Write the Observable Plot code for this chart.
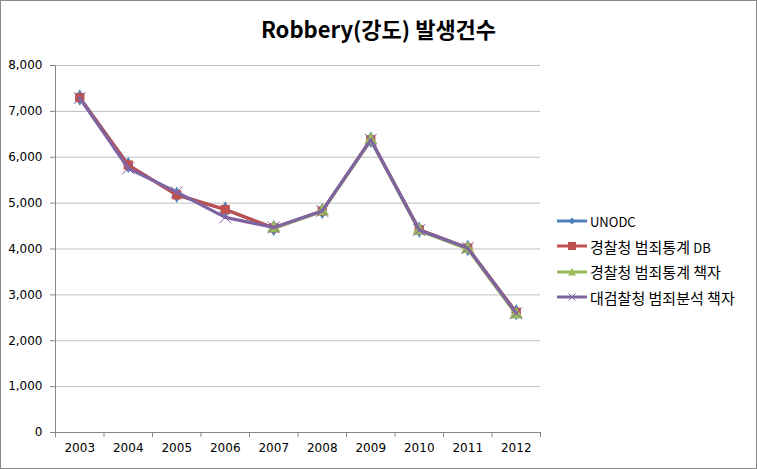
<!DOCTYPE html>
<html><head><meta charset="utf-8">
<script src="https://cdn.jsdelivr.net/npm/d3@7"></script>
<script src="https://cdn.jsdelivr.net/npm/@observablehq/plot@0.6"></script>
<style>
body{margin:0;background:#fff;font-family:"Noto Sans CJK KR","Noto Sans",sans-serif;}
#wrap{position:relative;width:757px;height:469px;overflow:hidden;}
#frame{position:absolute;left:0;top:0;width:757px;height:469px;box-sizing:border-box;border:1px solid #8a8a8a;pointer-events:none;}
#title{position:absolute;left:0;top:12px;width:757px;text-align:center;font-weight:bold;font-size:22px;color:#000;}
#plot{position:absolute;left:0;top:0;}
#legend{position:absolute;left:557px;top:208px;font-size:15px;color:#000;}
.row{height:25.5px;display:flex;align-items:center;white-space:nowrap;}
.row svg{margin-right:3px;}
.lat{font-size:13px;}
</style></head>
<body>
<div id="wrap">
  <div id="plot"></div>
  <div id="title">Robbery(강도) 발생건수</div>
  <div id="legend"></div>
  <div id="frame"></div>
</div>
<script>
const years = [2003,2004,2005,2006,2007,2008,2009,2010,2011,2012];
const seriesNames = ["UNODC","경찰청 범죄통계 DB","경찰청 범죄통계 책자","대검찰청 범죄분석 책자"];
const unodc   = [7300,5830,5180,4860,4460,4830,6380,4420,4020,2620];
const policeDB = [7300,5830,5180,4860,4460,4830,6380,4420,4020,2620];
const policeBook = [null,null,null,null,4450,4820,6370,4400,4000,2570];
const prosecutorBook = [7290,5760,5240,4690,4470,4830,6380,4410,4020,2600];
const yTicks = [0,1000,2000,3000,4000,5000,6000,7000,8000];

const colors = ["#4F81BD","#C0504D","#9BBB59","#8064A2"];
const symbols = ["diamond","square","triangle","times"];
const allValues = [unodc, policeDB, policeBook, prosecutorBook];

const data = [];
allValues.forEach((vals, si) => years.forEach((yr, i) => {
  if (vals[i] != null) data.push({series: seriesNames[si], year: yr, value: vals[i]});
}));

const boundaries = years.map(y => y - 0.5).concat([years[years.length-1] + 0.5]);
const axisFont = '"DejaVu Sans","Noto Sans",sans-serif';

const marks = [
  Plot.gridY(yTicks, {stroke: "#bfbfbf", strokeOpacity: 1}),
  Plot.ruleX([boundaries[0]], {stroke: "#868686"}),
  Plot.ruleY([0], {stroke: "#868686"}),
  Plot.axisY({ticks: yTicks, tickSize: 5, tickPadding: 8, tickFormat: d3.format(","), label: null, stroke: "#868686", fontSize: 12, fontFamily: axisFont}),
  Plot.axisX({ticks: boundaries, tickSize: 5, tickFormat: () => "", label: null, stroke: "#868686"}),
  Plot.axisX({ticks: years, tickSize: 0, tickPadding: 11, tickFormat: d => String(d), label: null, fontSize: 12, fontFamily: axisFont})
];
seriesNames.forEach((name, si) => {
  const d = data.filter(r => r.series === name);
  marks.push(Plot.line(d, {x: "year", y: "value", stroke: colors[si], strokeWidth: 3.2}));
  if (symbols[si] === "times") {
    marks.push(Plot.dot(d, {x: "year", y: "value", symbol: "times", stroke: colors[si], strokeWidth: 1, r: 5.5}));
  } else {
    marks.push(Plot.dot(d, {x: "year", y: "value", symbol: symbols[si], fill: colors[si], stroke: "none", r: symbols[si] === "square" ? 5.2 : 5}));
  }
});

const chart = Plot.plot({
  width: 757, height: 469,
  marginLeft: 55, marginRight: 217, marginTop: 65, marginBottom: 37,
  style: {fontFamily: axisFont, fontSize: "12px", color: "#000", background: "transparent"},
  x: {type: "linear", domain: [boundaries[0], boundaries[boundaries.length-1]]},
  y: {domain: [0, 8000]},
  marks
});
document.getElementById("plot").appendChild(chart);

const legend = document.getElementById("legend");
seriesNames.forEach((name, si) => {
  const row = document.createElement("div");
  row.className = "row";
  const c = colors[si];
  let marker;
  if (symbols[si] === "diamond") marker = `<path d="M15,1.5 L18.5,5 L15,8.5 L11.5,5Z" fill="${c}"/>`;
  else if (symbols[si] === "square") marker = `<rect x="11" y="1" width="8" height="8" fill="${c}"/>`;
  else if (symbols[si] === "triangle") marker = `<path d="M15,1 L19,8.5 L11,8.5Z" fill="${c}"/>`;
  else marker = `<path d="M11.5,1.5 L18.5,8.5 M18.5,1.5 L11.5,8.5" stroke="${c}" stroke-width="1"/>`;
  const label = name.replace(/([A-Za-z]+)/g, '<span class="lat">$1</span>');
  row.innerHTML = `<svg width="30" height="10"><line x1="0" y1="5" x2="30" y2="5" stroke="${c}" stroke-width="3"/>${marker}</svg><span>${label}</span>`;
  legend.appendChild(row);
});
</script>
</body></html>
